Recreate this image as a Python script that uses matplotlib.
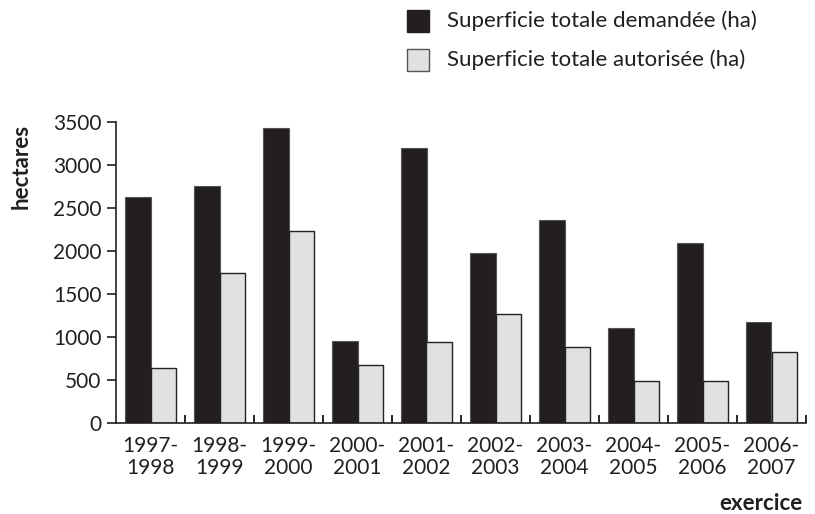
import matplotlib.pyplot as plt
import numpy as np
from matplotlib.patches import Rectangle

years = ["1997-\n1998", "1998-\n1999", "1999-\n2000", "2000-\n2001", "2001-\n2002",
         "2002-\n2003", "2003-\n2004", "2004-\n2005", "2005-\n2006", "2006-\n2007"]
demandee = [2630, 2755, 3430, 955, 3200, 1975, 2365, 1110, 2090, 1180]
autorisee = [640, 1750, 2230, 680, 940, 1265, 880, 485, 485, 820]

DARK = "#231f20"
LIGHT = "#e0e1e3"

plt.rcParams["font.family"] = ["Lato", "DejaVu Sans"]

fig = plt.figure(figsize=(8.15, 5.14), dpi=100)
ax = fig.add_axes([116 / 815, 1 - 423 / 514, 690 / 815, 301 / 514])

x = np.arange(len(years))
w = 0.37
ax.bar(x - w / 2, demandee, w, color=DARK, edgecolor="#555555", linewidth=0.8)
ax.bar(x + w / 2, autorisee, w, color=LIGHT, edgecolor="#222222", linewidth=1.0)

ax.set_xlim(-0.5, len(years) - 0.5)
ax.set_ylim(0, 3500)
ax.set_yticks(range(0, 3501, 500))
ax.tick_params(axis="y", labelsize=15, length=6.5, width=1.2, direction="out",
               pad=4, colors="#231f20")

ax.set_xticks(x)
ax.set_xticklabels(years, fontsize=15, linespacing=1.15)
ax.tick_params(axis="x", length=0, pad=9, colors="#231f20")
ax.set_xticks(np.arange(0.5, len(years), 1), minor=True)
ax.tick_params(axis="x", which="minor", direction="in", length=6, width=1.2)

for s in ["top", "right"]:
    ax.spines[s].set_visible(False)
for s in ["left", "bottom"]:
    ax.spines[s].set_linewidth(1.2)
    ax.spines[s].set_color("#231f20")

fig.text(21 / 815, 1 - 166 / 514, "hectares", rotation=90, fontsize=16,
         fontweight="bold", ha="center", va="center", color="#231f20")
fig.text(803 / 815, 1 - 503 / 514, "exercice", fontsize=16,
         fontweight="bold", ha="right", va="center", color="#231f20")

# legend drawn by hand at the top
for i, (lab, col, ec) in enumerate([("Superficie totale demandée (ha)", DARK, DARK),
                                    ("Superficie totale autorisée (ha)", LIGHT, "#555555")]):
    yc = 21 + i * 39
    fig.patches.append(Rectangle((407 / 815, 1 - (yc + 11) / 514), 22 / 815, 22 / 514,
                                 transform=fig.transFigure, facecolor=col,
                                 edgecolor=ec, linewidth=1.0))
    fig.text(447 / 815, 1 - yc / 514, lab, fontsize=16, ha="left", va="center",
             color="#231f20")

fig.savefig("out.png", dpi=100)
